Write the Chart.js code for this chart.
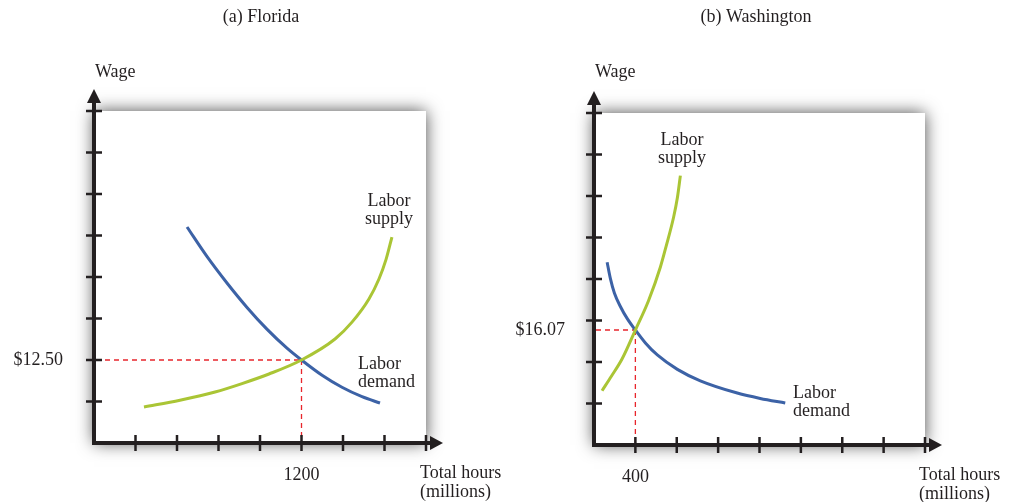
<!DOCTYPE html>
<html>
<head>
<meta charset="utf-8">
<script src="https://cdn.jsdelivr.net/npm/chart.js@4.4.1/dist/chart.umd.min.js"></script>
<style>
  html, body { margin: 0; padding: 0; background: #ffffff; }
  #wrap { position: relative; width: 1022px; height: 502px; }
  .box { position: absolute; top: 0; width: 511px; height: 502px; }
</style>
</head>
<body>
<div id="wrap">
  <div class="box" style="left:0"><canvas id="fl" width="511" height="502"></canvas></div>
  <div class="box" style="left:511px"><canvas id="wa" width="511" height="502"></canvas></div>
</div>
<script>
// ---------- DATA ----------
// (a) Florida : total hours (millions) vs wage ($)
const flSupplyHours  = [289, 497, 700, 856, 1012, 1200, 1394, 1492, 1590, 1648, 1689, 1723];
const flSupplyWage   = [5.42, 6.45, 7.68, 8.95, 10.39, 12.50, 15.66, 18.2, 21.69, 24.7, 27.65, 31.02];
const flDemandHours  = [538, 653, 769, 885, 1000, 1116, 1200, 1319, 1434, 1550, 1654];
const flDemandWage   = [32.53, 28.1, 24.1, 20.42, 17.15, 14.28, 12.50, 10.2, 8.39, 6.97, 6.02];
const flEquilibrium  = [1200, 12.50];
const flXTicks       = [240, 480, 720, 960, 1200, 1440, 1680, 1920];
const flYTicks       = [6.25, 12.5, 18.75, 25, 31.25, 37.5, 43.75, 50];
const flXLabel       = "1200";
const flYLabel       = "$12.50";

// (b) Washington
const waSupplyHours  = [78, 168, 271, 400, 526, 642, 699, 770, 806, 835];
const waSupplyWage   = [7.59, 9.61, 12.02, 16.07, 20.13, 24.88, 27.87, 31.87, 34.54, 37.65];
const waDemandHours  = [127, 158, 197, 255, 323, 400, 497, 612, 806, 1028, 1385, 1607, 1849];
const waDemandWage   = [25.54, 23.28, 21.25, 19.36, 17.62, 16.07, 14.26, 12.58, 10.57, 8.97, 7.26, 6.51, 5.87];
const waEquilibrium  = [400, 16.07];
const waXTicks       = [400, 800, 1200, 1600, 2000, 2400, 2800, 3200];
const waYTicks       = [5.8, 11.6, 17.4, 23.2, 29.0, 34.8, 40.6, 46.4];
const waXLabel       = "400";
const waYLabel       = "$16.07";

const titles = ["(a) Florida", "(b) Washington"];

// ---------- HELPERS ----------
const SERIF = '"Liberation Serif", "Times New Roman", serif';
const BLUE = '#3c62a6';
const GREEN = '#aac535';
const INK = '#231f20';
const RED = '#e8262c';

function pts(xs, ys) { return xs.map((x, i) => ({ x: x, y: ys[i] })); }

const econPlugin = {
  id: 'econ',
  beforeDatasetsDraw(chart, args, o) {
    const ctx = chart.ctx, a = chart.chartArea;
    const xs = chart.scales.x, ys = chart.scales.y;
    // shadowed white panel
    ctx.save();
    ctx.shadowColor = 'rgba(0,0,0,0.7)';
    ctx.shadowBlur = 16;
    ctx.fillStyle = '#ffffff';
    ctx.fillRect(a.left, a.top, a.right - a.left, a.bottom - a.top);
    ctx.restore();
    // dashed equilibrium guides
    const ex = xs.getPixelForValue(o.eq[0]);
    const ey = ys.getPixelForValue(o.eq[1]);
    ctx.save();
    ctx.strokeStyle = RED;
    ctx.lineWidth = 1.3;
    ctx.setLineDash([5, 4]);
    ctx.beginPath();
    ctx.moveTo(a.left + 2, ey); ctx.lineTo(ex, ey);
    ctx.moveTo(ex, ey); ctx.lineTo(ex, a.bottom - 2);
    ctx.stroke();
    ctx.restore();
  },
  afterDatasetsDraw(chart, args, o) {
    const ctx = chart.ctx, a = chart.chartArea;
    const xs = chart.scales.x, ys = chart.scales.y;
    ctx.save();
    ctx.strokeStyle = INK; ctx.fillStyle = INK;
    // axis lines
    ctx.lineWidth = 4;
    ctx.beginPath();
    ctx.moveTo(a.left, a.bottom + 2); ctx.lineTo(a.left, a.top - 9);
    ctx.moveTo(a.left - 2, a.bottom); ctx.lineTo(a.right + 5, a.bottom);
    ctx.stroke();
    // arrow heads
    ctx.beginPath();
    ctx.moveTo(a.left, a.top - 22); ctx.lineTo(a.left - 7, a.top - 8); ctx.lineTo(a.left + 7, a.top - 8); ctx.closePath();
    ctx.fill();
    ctx.beginPath();
    ctx.moveTo(a.right + 17, a.bottom); ctx.lineTo(a.right + 4, a.bottom - 7); ctx.lineTo(a.right + 4, a.bottom + 7); ctx.closePath();
    ctx.fill();
    // tick marks
    ctx.lineWidth = 2.5;
    ctx.beginPath();
    o.xTicks.forEach(v => { const p = xs.getPixelForValue(v); ctx.moveTo(p, a.bottom - 8); ctx.lineTo(p, a.bottom + 8); });
    o.yTicks.forEach(v => { const p = ys.getPixelForValue(v); ctx.moveTo(a.left - 8, p); ctx.lineTo(a.left + 8, p); });
    ctx.stroke();
    // texts
    ctx.fillStyle = '#231f20';
    ctx.textBaseline = 'middle';
    ctx.font = '18px ' + SERIF;
    ctx.textAlign = 'center';
    ctx.fillText(o.title, o.titleX, 17);
    ctx.textAlign = 'left';
    ctx.fillText('Wage', a.left + 1, 72);
    ctx.fillText('Total hours', a.right - 6, a.bottom + 30);
    ctx.fillText('(millions)', a.right - 6, a.bottom + 49);
    ctx.textAlign = 'center';
    ctx.fillText(o.xLabel, xs.getPixelForValue(o.eq[0]), a.bottom + 32);
    ctx.textAlign = 'right';
    ctx.fillText(o.yLabel, o.yLabelRight, ys.getPixelForValue(o.eq[1]));
    // curve labels
    ctx.textAlign = o.supplyAlign;
    ctx.fillText('Labor', o.supplyPos[0], o.supplyPos[1]);
    ctx.fillText('supply', o.supplyPos[0], o.supplyPos[1] + 18);
    ctx.textAlign = 'left';
    ctx.fillText('Labor', o.demandPos[0], o.demandPos[1]);
    ctx.fillText('demand', o.demandPos[0], o.demandPos[1] + 18);
    ctx.restore();
  }
};

function makeChart(id, cfg) {
  return new Chart(document.getElementById(id), {
    type: 'scatter',
    data: {
      datasets: [
        { data: pts(cfg.sx, cfg.sy), showLine: true, borderColor: GREEN, borderWidth: 3,
          pointRadius: 0, cubicInterpolationMode: 'monotone', fill: false },
        { data: pts(cfg.dx, cfg.dy), showLine: true, borderColor: BLUE, borderWidth: 3,
          pointRadius: 0, cubicInterpolationMode: 'monotone', fill: false }
      ]
    },
    options: {
      responsive: false,
      animation: false,
      events: [],
      layout: { padding: cfg.padding },
      scales: {
        x: { type: 'linear', display: false, min: 0, max: cfg.xTicks[cfg.xTicks.length - 1] },
        y: { type: 'linear', display: false, min: 0, max: cfg.yTicks[cfg.yTicks.length - 1] }
      },
      plugins: {
        legend: { display: false },
        tooltip: { enabled: false },
        econ: {
          eq: cfg.eq, xTicks: cfg.xTicks, yTicks: cfg.yTicks,
          title: cfg.title, titleX: cfg.titleX,
          xLabel: cfg.xLabel, yLabel: cfg.yLabel, yLabelRight: cfg.yLabelRight,
          supplyPos: cfg.supplyPos, supplyAlign: cfg.supplyAlign, demandPos: cfg.demandPos
        }
      }
    },
    plugins: [econPlugin]
  });
}

makeChart('fl', {
  sx: flSupplyHours, sy: flSupplyWage, dx: flDemandHours, dy: flDemandWage,
  eq: flEquilibrium, xTicks: flXTicks, yTicks: flYTicks,
  title: titles[0], titleX: 261,
  xLabel: flXLabel, yLabel: flYLabel, yLabelRight: 63,
  supplyPos: [389, 201], supplyAlign: 'center', demandPos: [358, 364],
  padding: { left: 94, right: 85, top: 111, bottom: 59 }
});

makeChart('wa', {
  sx: waSupplyHours, sy: waSupplyWage, dx: waDemandHours, dy: waDemandWage,
  eq: waEquilibrium, xTicks: waXTicks, yTicks: waYTicks,
  title: titles[1], titleX: 245,
  xLabel: waXLabel, yLabel: waYLabel, yLabelRight: 54,
  supplyPos: [171, 140], supplyAlign: 'center', demandPos: [282, 393],
  padding: { left: 83, right: 97, top: 113, bottom: 57 }
});
</script>
</body>
</html>
